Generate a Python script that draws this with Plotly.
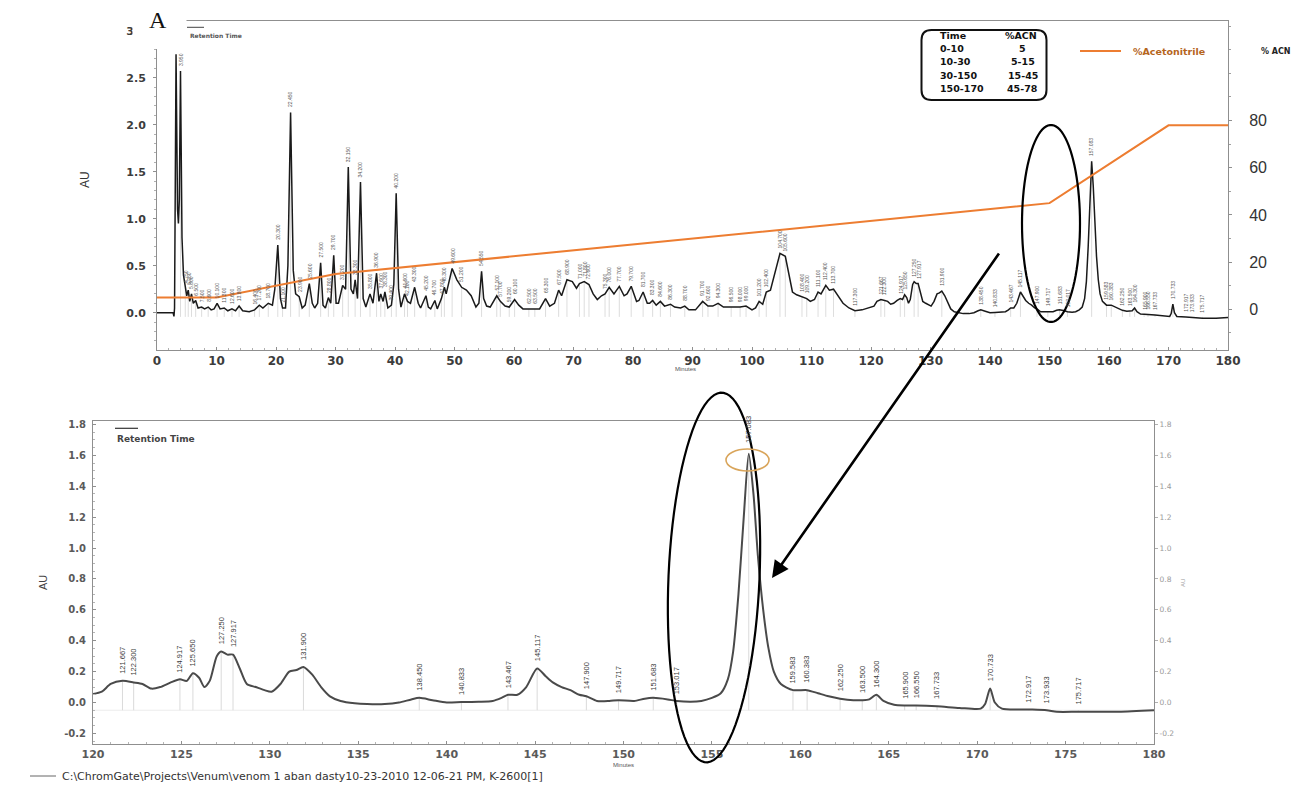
import numpy as np
import plotly.graph_objects as go

FIG_W, FIG_H = 1294, 789

# ---------------- data ----------------
# Chromatogram trace: retention time (min) and absorbance (AU)
chrom_time = [
    0.0, 2.70, 2.85, 2.95, 3.20, 3.45, 3.60, 3.75, 3.95, 4.20,
    4.45, 4.75, 5.00, 5.25, 5.50, 5.80, 6.10, 6.50, 6.90, 7.50,
    8.00, 8.60, 9.10, 9.60, 10.10, 10.60, 11.30, 11.90, 12.60, 13.20,
    13.80, 14.40, 15.50, 16.40, 17.20, 17.80, 18.70, 19.40, 19.80, 20.30,
    20.75, 21.10, 21.60, 22.00, 22.45, 22.90, 23.30, 23.90, 24.40, 24.90,
    25.60, 26.10, 26.50, 27.00, 27.50, 27.90, 28.30, 28.80, 29.20, 29.70,
    30.10, 30.50, 31.20, 31.70, 32.15, 32.60, 33.00, 33.30, 33.70, 34.20,
    34.65, 35.10, 35.80, 36.30, 36.90, 37.30, 37.60, 38.00, 38.30, 38.80,
    39.40, 39.80, 40.20, 40.60, 41.00, 41.60, 42.10, 42.60, 43.30, 43.90,
    44.30, 45.20, 45.60, 46.00, 46.70, 47.10, 47.80, 48.30, 48.60, 49.60,
    50.40, 51.20, 52.00, 52.80, 53.60, 54.10, 54.55, 54.90, 55.40, 56.00,
    57.10, 57.70, 58.50, 59.20, 60.10, 60.80, 61.50, 62.50, 63.50, 64.30,
    65.30, 66.00, 66.80, 67.50, 68.00, 68.90, 69.80, 70.50, 71.00, 71.80,
    72.60, 73.30, 74.00, 74.70, 75.30, 76.00, 76.80, 77.70, 78.50, 79.00,
    79.70, 80.60, 81.00, 81.70, 82.40, 82.80, 83.30, 83.90, 84.60, 85.30,
    86.30, 87.00, 88.00, 88.70, 89.40, 90.50, 91.70, 92.60, 93.40, 94.30,
    95.20, 96.50, 98.00, 99.00, 100.00, 100.60, 101.20, 101.80, 102.40, 103.10,
    103.80, 104.70, 105.60, 106.20, 106.80, 107.50, 108.40, 109.20, 109.80, 110.50,
    111.10, 111.60, 112.40, 113.00, 113.70, 114.50, 115.30, 116.30, 117.30, 118.50,
    119.50, 120.00, 120.50, 121.00, 121.667, 122.300, 122.80, 123.30, 123.80, 124.40,
    124.917, 125.30, 125.650, 126.00, 126.30, 126.60, 127.00, 127.250, 127.60, 127.917,
    128.30, 128.70, 129.20, 129.70, 130.10, 130.60, 131.10, 131.50, 131.900, 132.40,
    132.90, 133.40, 134.00, 134.80, 135.50, 136.50, 137.30, 138.00, 138.450, 139.20,
    140.00, 140.833, 141.80, 142.60, 143.10, 143.467, 144.00, 144.50, 145.117, 145.60,
    146.00, 146.50, 147.00, 147.50, 147.900, 148.50, 149.20, 149.717, 150.60, 151.20,
    151.683, 152.50, 153.017, 153.80, 154.40, 155.00, 155.50, 155.90, 156.20, 156.50,
    156.80, 157.083, 157.35, 157.60, 157.90, 158.20, 158.50, 158.90, 159.583, 160.383,
    161.00, 161.60, 162.250, 163.00, 163.500, 163.90, 164.300, 164.70, 165.30, 165.900,
    166.550, 167.733, 169.00, 170.20, 170.45, 170.733, 171.00, 171.40, 172.917, 173.933,
    174.50, 175.717, 178.00, 180.00,
]
chrom_au = [
    0.00, 0.00, -0.04, 0.05, 2.75, 1.10, 0.95, 1.20, 2.57, 0.80,
    0.40, 0.26, 0.18, 0.24, 0.12, 0.20, 0.10, 0.13, 0.05, 0.06,
    0.04, 0.06, 0.03, 0.04, 0.10, 0.04, 0.05, 0.02, 0.04, 0.02,
    0.07, 0.02, 0.01, 0.03, 0.08, 0.05, 0.10, 0.08, 0.25, 0.72,
    0.15, 0.05, 0.05, 0.50, 2.13, 0.45, 0.20, 0.17, 0.05, 0.08,
    0.31, 0.10, 0.05, 0.10, 0.53, 0.08, 0.05, 0.16, 0.10, 0.61,
    0.10, 0.10, 0.29, 0.25, 1.55, 0.25, 0.20, 0.35, 0.15, 1.39,
    0.15, 0.06, 0.20, 0.10, 0.42, 0.12, 0.20, 0.12, 0.22, 0.05,
    0.08, 0.30, 1.27, 0.25, 0.06, 0.20, 0.12, 0.10, 0.27, 0.10,
    0.05, 0.18, 0.06, 0.04, 0.13, 0.04, 0.15, 0.27, 0.20, 0.47,
    0.35, 0.27, 0.24, 0.18, 0.06, 0.10, 0.44, 0.15, 0.07, 0.06,
    0.18, 0.12, 0.07, 0.06, 0.14, 0.08, 0.04, 0.04, 0.04, 0.04,
    0.15, 0.07, 0.10, 0.24, 0.18, 0.35, 0.33, 0.26, 0.31, 0.33,
    0.30, 0.20, 0.14, 0.18, 0.20, 0.27, 0.20, 0.28, 0.18, 0.20,
    0.28, 0.12, 0.13, 0.22, 0.10, 0.10, 0.13, 0.08, 0.12, 0.07,
    0.09, 0.06, 0.05, 0.07, 0.03, 0.03, 0.12, 0.07, 0.07, 0.10,
    0.06, 0.06, 0.06, 0.07, 0.03, 0.05, 0.12, 0.09, 0.22, 0.24,
    0.40, 0.63, 0.60, 0.40, 0.22, 0.19, 0.17, 0.15, 0.12, 0.14,
    0.22, 0.20, 0.29, 0.24, 0.25, 0.17, 0.10, 0.05, 0.02, 0.03,
    0.05, 0.055, 0.07, 0.12, 0.14, 0.13, 0.12, 0.09, 0.10, 0.13,
    0.15, 0.14, 0.19, 0.16, 0.10, 0.14, 0.30, 0.33, 0.31, 0.31,
    0.22, 0.12, 0.10, 0.08, 0.07, 0.12, 0.20, 0.21, 0.23, 0.18,
    0.10, 0.04, 0.01, -0.005, -0.01, -0.01, 0.00, 0.02, 0.03, 0.015,
    0.00, 0.003, 0.005, 0.01, 0.03, 0.05, 0.05, 0.10, 0.22, 0.17,
    0.13, 0.10, 0.08, 0.05, 0.04, 0.01, 0.01, 0.015, 0.01, 0.025,
    0.03, 0.02, 0.01, 0.005, 0.01, 0.03, 0.06, 0.15, 0.33, 0.70,
    1.20, 1.61, 1.35, 0.95, 0.60, 0.35, 0.20, 0.12, 0.08, 0.08,
    0.06, 0.04, 0.025, 0.015, 0.015, 0.02, 0.05, 0.01, -0.015, -0.02,
    -0.02, -0.025, -0.035, -0.04, -0.01, 0.09, 0.00, -0.04, -0.045, -0.05,
    -0.06, -0.06, -0.06, -0.05,
]

# Acetonitrile gradient program
gradient_time = [0, 10, 30, 150, 170, 180]
gradient_acn = [5, 5, 15, 45, 78, 78]

# Gradient table rows
table_time = ["0-10", "10-30", "30-150", "150-170"]
table_acn = ["5", "5-15", "15-45", "45-78"]

# Retention times printed above peaks
overview_labels = [
    3.95, 4.75, 5.25, 5.8, 6.5, 7.5, 8.6, 10.1, 11.3, 12.6, 13.8, 16.4, 17.2,
    18.7, 20.3, 21.1, 22.45, 23.9, 25.6, 27.5, 28.8, 29.7, 31.2, 32.15, 33.3,
    34.2, 35.8, 36.9, 37.6, 38.3, 39.4, 40.2, 41.6, 42.1, 43.3, 45.2, 46.7,
    47.8, 48.3, 49.6, 51.2, 54.55, 57.1, 57.7, 59.2, 60.1, 62.5, 63.5, 65.3,
    67.5, 68.9, 71.0, 71.8, 72.6, 75.3, 76.0, 77.7, 79.7, 81.7, 83.3, 84.6,
    86.3, 88.7, 91.7, 92.6, 94.3, 96.5, 98.0, 99.0, 101.2, 102.4, 104.7,
    105.6, 108.4, 109.2, 111.1, 112.4, 113.7, 117.3, 121.667, 122.3, 124.917,
    125.65, 127.25, 127.917, 131.9, 138.45, 140.833, 143.467, 145.117, 147.9,
    149.717, 151.683, 153.017, 157.083, 159.583, 160.383, 162.25, 163.5,
    164.3, 165.9, 166.55, 167.733, 170.733, 172.917, 173.933, 175.717,
]
detail_labels = [
    121.667, 122.300, 124.917, 125.650, 127.250, 127.917, 131.900, 138.450,
    140.833, 143.467, 145.117, 147.900, 149.717, 151.683, 153.017, 157.083,
    159.583, 160.383, 162.250, 163.500, 164.300, 165.900, 166.550, 167.733,
    170.733, 172.917, 173.933, 175.717,
]

# Axis ticks
overview_xticks = list(range(0, 181, 10))
overview_au_ticks = [0.0, 0.5, 1.0, 1.5, 2.0, 2.5, 3.0]
acn_ticks = [0, 20, 40, 60, 80]
acn_minor = list(range(-10, 121, 10))
detail_xticks = list(range(120, 181, 5))
detail_au_ticks = [-0.2, 0.0, 0.2, 0.4, 0.6, 0.8, 1.0, 1.2, 1.4, 1.6, 1.8]

FOOTER = r"C:\ChromGate\Projects\Venum\venom 1 aban dasty10-23-2010 12-06-21 PM, K-2600[1]"

# ---------------- helpers ----------------
def px(x):
    return x / FIG_W


def py(y):
    return 1 - y / FIG_H


t_arr = np.array(chrom_time)
a_arr = np.array(chrom_au)
assert len(t_arr) == len(a_arr)


def au_at(t):
    return float(a_arr[np.argmin(np.abs(t_arr - t))])


def drop_lines(times, floor):
    xs, ys = [], []
    for t in times:
        xs += [t, t, None]
        ys += [floor, au_at(t), None]
    return xs, ys


def ellipse_path(cx, cy, rx, ry, rot_deg=0.0, n=90):
    phi = np.radians(rot_deg)
    pts = []
    for k in range(n):
        th = 2 * np.pi * k / n
        ex, ey = rx * np.cos(th), ry * np.sin(th)
        x = cx + ex * np.cos(phi) - ey * np.sin(phi)
        y = cy + ex * np.sin(phi) + ey * np.cos(phi)
        pts.append(f"{px(x):.5f},{py(y):.5f}")
    return "M " + " L ".join(pts) + " Z"


def rounded_rect(x0, y0, x1, y1, r):
    P = lambda x, y: f"{px(x):.5f},{py(y):.5f}"
    return (f"M {P(x0 + r, y0)} L {P(x1 - r, y0)} Q {P(x1, y0)} {P(x1, y0 + r)} "
            f"L {P(x1, y1 - r)} Q {P(x1, y1)} {P(x1 - r, y1)} "
            f"L {P(x0 + r, y1)} Q {P(x0, y1)} {P(x0, y1 - r)} "
            f"L {P(x0, y0 + r)} Q {P(x0, y0)} {P(x0 + r, y0)} Z")


BOLD = "DejaVu Sans"
NARROW = "Liberation Sans, Arial"

fig = go.Figure()

# ---------------- overview panel ----------------
dx, dy = drop_lines(overview_labels, -0.045)
fig.add_trace(go.Scatter(x=dx, y=dy, mode="lines", xaxis="x", yaxis="y",
                         line=dict(color="#d4d4d4", width=0.8), hoverinfo="skip"))
fig.add_trace(go.Scatter(x=chrom_time, y=chrom_au, mode="lines", xaxis="x", yaxis="y",
                         line=dict(color="#1a1a1a", width=1.5)))
fig.add_trace(go.Scatter(x=gradient_time, y=gradient_acn, mode="lines", xaxis="x", yaxis="y2",
                         line=dict(color="#ed7d31", width=2)))

# ---------------- detail panel ----------------
fig.add_trace(go.Scatter(x=[120, 180], y=[-0.05, -0.05], mode="lines", xaxis="x2", yaxis="y3",
                         line=dict(color="#ececec", width=1), hoverinfo="skip"))
ddx, ddy = drop_lines(detail_labels, -0.05)
fig.add_trace(go.Scatter(x=ddx, y=ddy, mode="lines", xaxis="x2", yaxis="y3",
                         line=dict(color="#dadada", width=1), hoverinfo="skip"))
fig.add_trace(go.Scatter(x=chrom_time, y=chrom_au, mode="lines", xaxis="x2", yaxis="y3",
                         line=dict(color="#4a4a4a", width=2, shape="spline", smoothing=0.7)))
fig.add_trace(go.Scatter(x=[150], y=[0], mode="markers", xaxis="x2", yaxis="y4",
                         marker=dict(opacity=0), hoverinfo="skip"))

AXC = "#8f8f8f"
fig.update_layout(
    width=FIG_W, height=FIG_H,
    margin=dict(l=0, r=0, t=0, b=0),
    paper_bgcolor="white", plot_bgcolor="white",
    showlegend=False,
    xaxis=dict(
        domain=[px(157), px(1228)], range=[0, 180], anchor="y", automargin=False,
        tickmode="array", tickvals=overview_xticks,
        showline=True, linecolor=AXC, linewidth=1, mirror=True,
        ticks="inside", ticklen=3, tickcolor=AXC,
        minor=dict(tickmode="linear", tick0=0, dtick=2, ticks="inside", ticklen=2, tickcolor="#b0b0b0"),
        tickfont=dict(family=BOLD, size=12, color="#3c3c3c", weight="bold"),
        showgrid=False, zeroline=False,
    ),
    yaxis=dict(
        domain=[py(350), py(20.7)], range=[-0.397, 3.106], anchor="x", automargin=False,
        tickmode="array", tickvals=overview_au_ticks,
        ticktext=[f"{v:.1f}" for v in overview_au_ticks],
        showline=True, linecolor=AXC, linewidth=1,
        ticks="outside", ticklen=3, tickcolor=AXC, ticklabelstandoff=5,
        minor=dict(tickmode="linear", tick0=0, dtick=0.1, ticks="outside", ticklen=2, tickcolor="#b0b0b0"),
        tickfont=dict(family=BOLD, size=11, color="#3c3c3c", weight="bold"),
        showgrid=False, zeroline=False,
    ),
    yaxis2=dict(
        overlaying="y", side="right", anchor="x", range=[-17.25, 122.34], automargin=False,
        tickmode="array", tickvals=acn_ticks,
        showline=True, linecolor=AXC, linewidth=1,
        ticks="outside", ticklen=3, tickcolor=AXC, ticklabelstandoff=14,
        minor=dict(tickmode="array", tickvals=acn_minor, ticks="outside", ticklen=2, tickcolor="#a0a0a0"),
        tickfont=dict(family="Liberation Sans, Arial", size=16, color="#333333"),
        showgrid=False, zeroline=False,
    ),
    xaxis2=dict(
        domain=[px(93), px(1154)], range=[120, 180], anchor="y3", automargin=False,
        tickmode="array", tickvals=detail_xticks,
        showline=True, linecolor=AXC, linewidth=1, mirror=True,
        ticks="inside", ticklen=3, tickcolor=AXC,
        minor=dict(tickmode="linear", tick0=120, dtick=1, ticks="inside", ticklen=2, tickcolor="#b5b5b5"),
        tickfont=dict(family=BOLD, size=11, color="#5a5a5a", weight="bold"),
        showgrid=False, zeroline=False,
    ),
    yaxis3=dict(
        domain=[py(744), py(420.7)], range=[-0.2686, 1.824], anchor="x2", automargin=False,
        tickmode="array", tickvals=detail_au_ticks,
        ticktext=[f"{v:.1f}" for v in detail_au_ticks],
        showline=True, linecolor=AXC, linewidth=1,
        ticks="inside", ticklen=3, tickcolor=AXC, ticklabelstandoff=4,
        minor=dict(tickmode="linear", tick0=0, dtick=0.05, ticks="inside", ticklen=2, tickcolor="#b5b5b5"),
        tickfont=dict(family=BOLD, size=10, color="#5a5a5a", weight="bold"),
        showgrid=False, zeroline=False,
    ),
    yaxis4=dict(
        overlaying="y3", side="right", anchor="x2", range=[-0.2686, 1.824], automargin=False,
        tickmode="array", tickvals=detail_au_ticks,
        ticktext=[f"{v:.1f}" for v in detail_au_ticks],
        showline=True, linecolor=AXC, linewidth=1,
        ticks="outside", ticklen=3, tickcolor="#b0b0b0",
        tickfont=dict(family="DejaVu Sans", size=7.5, color="#9a9a9a"),
        showgrid=False, zeroline=False,
    ),
)

# ---------------- annotations ----------------
ann = []


def paper_text(x, y, text, size, color="#333333", family=BOLD, xanchor="left",
               yanchor="middle", angle=0, weight=None):
    font = dict(family=family, size=size, color=color)
    if weight:
        font["weight"] = weight
    ann.append(dict(x=px(x), y=py(y), xref="paper", yref="paper", text=text,
                    showarrow=False, xanchor=xanchor, yanchor=yanchor,
                    textangle=angle, font=font))


for t in overview_labels:
    ann.append(dict(x=t, y=au_at(t), xref="x", yref="y", text=f"{t:.3f}",
                    textangle=-90, showarrow=False, xanchor="center", yanchor="bottom",
                    yshift=3, font=dict(family=NARROW, size=5, color="#555555")))
for t in detail_labels:
    v = au_at(t)
    ann.append(dict(x=t, y=v, xref="x2", yref="y3", text=f"{t:.3f}",
                    textangle=-90, showarrow=False, xanchor="center", yanchor="bottom",
                    yshift=9 if v > 1 else 5,
                    font=dict(family=NARROW, size=7.5, color="#3a3a3a")))

# panel letter and axis titles
paper_text(158, 20, "A", 24, color="#111111", family="Liberation Serif, Times New Roman",
           xanchor="center")
paper_text(85, 180, "AU", 12, family="Liberation Sans, Arial", xanchor="center", angle=-90)
paper_text(43, 583, "AU", 11, family="Liberation Sans, Arial", color="#444444",
           xanchor="center", angle=-90)
paper_text(1183, 583, "AU", 6, family="Liberation Sans, Arial", color="#a0a0a0",
           xanchor="center", angle=-90)
paper_text(685, 369, "Minutes", 6, family="Liberation Sans, Arial", color="#555555",
           xanchor="center")
paper_text(623, 765, "Minutes", 6, family="Liberation Sans, Arial", color="#555555",
           xanchor="center")

# small in-plot legends
paper_text(188, 35, "Retention Time", 6, color="#555555", weight="bold")
paper_text(115, 438.5, "Retention Time", 9, color="#444444", weight="bold")

# gradient table
paper_text(938, 35, "Time", 9.5, color="#111111", weight="bold")
paper_text(1021, 35, "%ACN", 9.5, color="#111111", xanchor="center", weight="bold")
for i, (tt, aa) in enumerate(zip(table_time, table_acn)):
    yy = 48.5 + i * 13.4
    paper_text(938, yy, tt, 9.5, color="#111111", weight="bold")
    paper_text(1023, yy, aa, 9.5, color="#111111", xanchor="center", weight="bold")

# gradient legend
paper_text(1131, 51, "%Acetonitrile", 9.5, color="#b5651d", weight="bold")
paper_text(1259, 51, "% ACN", 8, color="#222222", weight="bold")

# footer
paper_text(60, 776, FOOTER, 11, family="DejaVu Sans", color="#333333")

# arrow from the overview ellipse to the expanded peak
ann.append(dict(x=px(772), y=py(578), xref="paper", yref="paper", text="",
                showarrow=True, ax=228, ay=-326, arrowhead=2, arrowsize=1.3,
                arrowwidth=2.6, arrowcolor="#000000"))

fig.update_layout(annotations=ann)

# ---------------- shapes ----------------
shapes = [
    # blank corner behind the panel letter
    dict(type="rect", xref="paper", yref="paper", x0=px(132.5), x1=px(186.5),
         y0=py(0), y1=py(49), fillcolor="white", line=dict(width=0), layer="above"),
    # gradient table frame
    dict(type="path", xref="paper", yref="paper", path=rounded_rect(921.5, 30, 1046.5, 100, 10),
         line=dict(color="#111111", width=2), layer="above"),
    # legend samples
    dict(type="line", xref="paper", yref="paper", x0=px(1080), x1=px(1121), y0=py(51), y1=py(51),
         line=dict(color="#ed7d31", width=2), layer="above"),
    dict(type="line", xref="paper", yref="paper", x0=px(187), x1=px(204), y0=py(27.3), y1=py(27.3),
         line=dict(color="#444444", width=1), layer="above"),
    dict(type="line", xref="paper", yref="paper", x0=px(115), x1=px(138), y0=py(428.3), y1=py(428.3),
         line=dict(color="#333333", width=1.2), layer="above"),
    dict(type="line", xref="paper", yref="paper", x0=px(30), x1=px(56), y0=py(776), y1=py(776),
         line=dict(color="#666666", width=1), layer="above"),
    # highlight ellipses
    dict(type="path", xref="paper", yref="paper", path=ellipse_path(1051, 223.5, 29, 98.5, 0),
         line=dict(color="#000000", width=2.2), layer="above"),
    dict(type="path", xref="paper", yref="paper", path=ellipse_path(714, 577.5, 45.5, 185, 2.5),
         line=dict(color="#000000", width=2.2), layer="above"),
    # apex marker
    dict(type="circle", xref="paper", yref="paper", x0=px(726), x1=px(769), y0=py(449), y1=py(471),
         line=dict(color="#d9a55b", width=1.6), layer="above"),
]
fig.update_layout(shapes=shapes)

fig.write_html("out.html")
